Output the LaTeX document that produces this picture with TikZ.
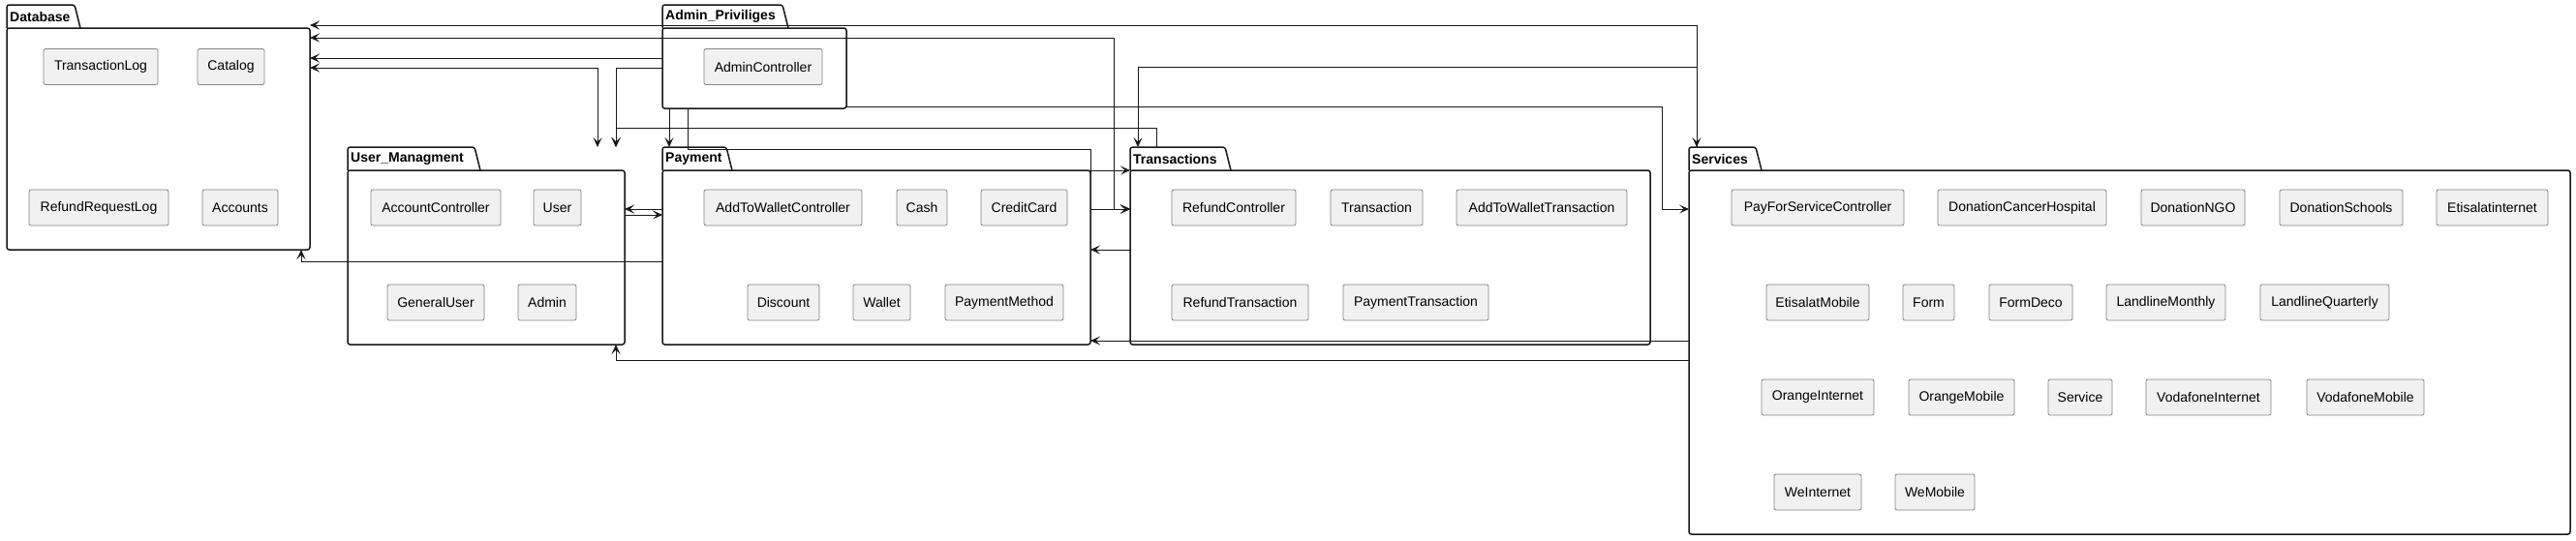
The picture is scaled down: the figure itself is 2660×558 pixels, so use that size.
\documentclass[tikz,border=0pt]{standalone}
\usepackage{fontspec}
\setmainfont{Liberation Sans}
\usetikzlibrary{arrows.meta}
\definecolor{lc}{HTML}{181818}
\definecolor{bf}{HTML}{F1F1F1}
\definecolor{bd}{HTML}{858585}
\tikzset{
 cls/.style={draw=bd, fill=bf, line width=0.8pt, rounded corners=2pt, minimum height=37pt, inner sep=0pt, font=\fontsize{14}{16}\selectfont},
 pkgbody/.style={draw=lc, line width=1.5pt, rounded corners=2.5pt, inner sep=0pt, outer sep=0pt, fill=white},
 pkgtab/.style={draw=lc, line width=1.5pt, rounded corners=2.5pt, fill=white},
 pkglbl/.style={font=\bfseries\fontsize{14}{16}\selectfont, inner sep=0pt, anchor=west},
 tip/.tip={Stealth[length=10pt,width=9pt,inset=4.5pt]},
 arr/.style={draw=lc, line width=1pt, -tip},
 biarr/.style={draw=lc, line width=1pt, tip-tip},
}
% #1 name, #2 label, #3 x0, #4 ytab, #5 xtab, #6 x1, #7 ybody, #8 y1
\newcommand\pkgdraw[8]{%
 \draw[pkgtab] (#3,#7) -- (#3,#4) -- ({#5-6},#4) -- (#5,#7);
 \node[pkgbody, anchor=north west, minimum width={(#6-#3)*1pt}, minimum height={(#8-#7)*1pt}] (#1) at (#3,#7) {};
 \coordinate (#1T) at (#3,#4);
 \node[pkglbl] (#1L) at ({#3+3},{(#4+#7)/2}) {#2};
}
\begin{document}
\begin{tikzpicture}[x=1pt,y=-1pt]
\useasboundingbox (0,0) rectangle (2660,558);
\fill[white] (0,0) rectangle (2660,558);

\pkgdraw{db}{Database}{7}{5}{83}{320}{29}{258}
\pkgdraw{adm}{Admin\_Priviliges}{684}{5}{814}{874}{29}{112}
\pkgdraw{um}{User\_Managment}{359}{152}{496}{645}{176}{356}
\pkgdraw{pay}{Payment}{684}{152}{756}{1126}{176}{356}
\pkgdraw{tr}{Transactions}{1167}{152}{1271}{1704}{176}{356}
\pkgdraw{sv}{Services}{1744}{152}{1819}{2654}{176}{552}

% Database
\node[cls, minimum width=118pt] (transactionlog) at (104,69) {TransactionLog};
\node[cls, minimum width=69pt] (catalog) at (238.5,69) {Catalog};
\node[cls, minimum width=144pt] (refundrequestlog) at (102,214.5) {RefundRequestLog};
\node[cls, minimum width=78pt] (accounts) at (248,214.5) {Accounts};
% Admin
\node[cls, minimum width=122pt] (admincontroller) at (788,69) {AdminController};
% User
\node[cls, minimum width=134pt] (accountcontroller) at (450,214.5) {AccountController};
\node[cls, minimum width=49pt] (user) at (575.5,214.5) {User};
\node[cls, minimum width=100pt] (generaluser) at (450,312.5) {GeneralUser};
\node[cls, minimum width=60pt] (admin) at (565,312.5) {Admin};
% Payment
\node[cls, minimum width=163pt] (addtowalletcontroller) at (808.5,214.5) {AddToWalletController};
\node[cls, minimum width=52pt] (cash) at (952,214.5) {Cash};
\node[cls, minimum width=89pt] (creditcard) at (1057.5,214.5) {CreditCard};
\node[cls, minimum width=74pt] (discount) at (809,312.5) {Discount};
\node[cls, minimum width=59pt] (wallet) at (910.5,312.5) {Wallet};
\node[cls, minimum width=122pt] (paymentmethod) at (1037,312.5) {PaymentMethod};
% Transactions
\node[cls, minimum width=128pt] (refundcontroller) at (1274,214.5) {RefundController};
\node[cls, minimum width=95pt] (transaction) at (1421.5,214.5) {Transaction};
\node[cls, minimum width=176pt] (addtowallettransaction) at (1592,214.5) {AddToWalletTransaction};
\node[cls, minimum width=141pt] (refundtransaction) at (1280.5,312.5) {RefundTransaction};
\node[cls, minimum width=150pt] (paymenttransaction) at (1462,312.5) {PaymentTransaction};
% Services
\node[cls, minimum width=178pt] (payforservicecontroller) at (1877,214.5) {PayForServiceController};
\node[cls, minimum width=174pt] (donationcancerhospital) at (2088,214.5) {DonationCancerHospital};
\node[cls, minimum width=107pt] (donationngo) at (2264.5,214.5) {DonationNGO};
\node[cls, minimum width=127pt] (donationschools) at (2417.5,214.5) {DonationSchools};
\node[cls, minimum width=115pt] (etisalatinternet) at (2573.5,214.5) {Etisalatinternet};
\node[cls, minimum width=106pt] (etisalatmobile) at (1877,312.5) {EtisalatMobile};
\node[cls, minimum width=53pt] (form) at (1991.5,312.5) {Form};
\node[cls, minimum width=86pt] (formdeco) at (2097,312.5) {FormDeco};
\node[cls, minimum width=123pt] (landlinemonthly) at (2236.5,312.5) {LandlineMonthly};
\node[cls, minimum width=133pt] (landlinequarterly) at (2400.5,312.5) {LandlineQuarterly};
\node[cls, minimum width=116pt] (orangeinternet) at (1877,410.5) {OrangeInternet};
\node[cls, minimum width=109pt] (orangemobile) at (2025.5,410.5) {OrangeMobile};
\node[cls, minimum width=66pt] (service) at (2148,410.5) {Service};
\node[cls, minimum width=129pt] (vodafoneinternet) at (2280.5,410.5) {VodafoneInternet};
\node[cls, minimum width=121pt] (vodafonemobile) at (2442.5,410.5) {VodafoneMobile};
\node[cls, minimum width=90pt] (weinternet) at (1877,508.5) {WeInternet};
\node[cls, minimum width=82pt] (wemobile) at (1998,508.5) {WeMobile};

% connectors
\draw[biarr] (db.east |- 0,26) -| (svT -| 1752,0);
\draw[biarr] (db.east |- 0,39) -| (1150,216) -- (tr.west |- 0,216);
\draw[arr] (adm.west |- 0,60) -- (db.east |- 0,60);
\draw[biarr] (db.east |- 0,70) -| (umT -| 617,0);
\draw[arr] (adm.west |- 0,70) -| (umT -| 636,0);
\draw[arr] (trT -| 1194,0) |- (636,132) -- (umT -| 636,0);
\draw[arr] (adm.south -| 691,0) -- (payT -| 691,0);
\draw[arr] (adm.south -| 710,0) |- (1126,154) |- (tr.west |- 0,216);
\draw[arr] (pay.east |- 0,216) -- (tr.west |- 0,216);
\draw[arr] (pay.east |- 0,176) -- (tr.west |- 0,176);
\draw[arr] (tr.west |- 0,258) -- (pay.east |- 0,258);
\draw[arr] (sv.west |- 0,352) -- (pay.east |- 0,352);
\draw[arr] (sv.west |- 0,372) -| (um.south -| 636,0);
\draw[arr] (pay.west |- 0,270) -| (db.south -| 311,0);
\draw[arr] (pay.west |- 0,216) -- (um.east |- 0,216);
\draw[arr] (um.east |- 0,222) -- (pay.west |- 0,222);
\draw[arr] (adm.east |- 0,110) -| (1716,216) -- (sv.west |- 0,216);
\draw[arr] (svT -| 1752,0) |- (1175,69) -- (trT -| 1175,0);
\end{tikzpicture}
\end{document}
